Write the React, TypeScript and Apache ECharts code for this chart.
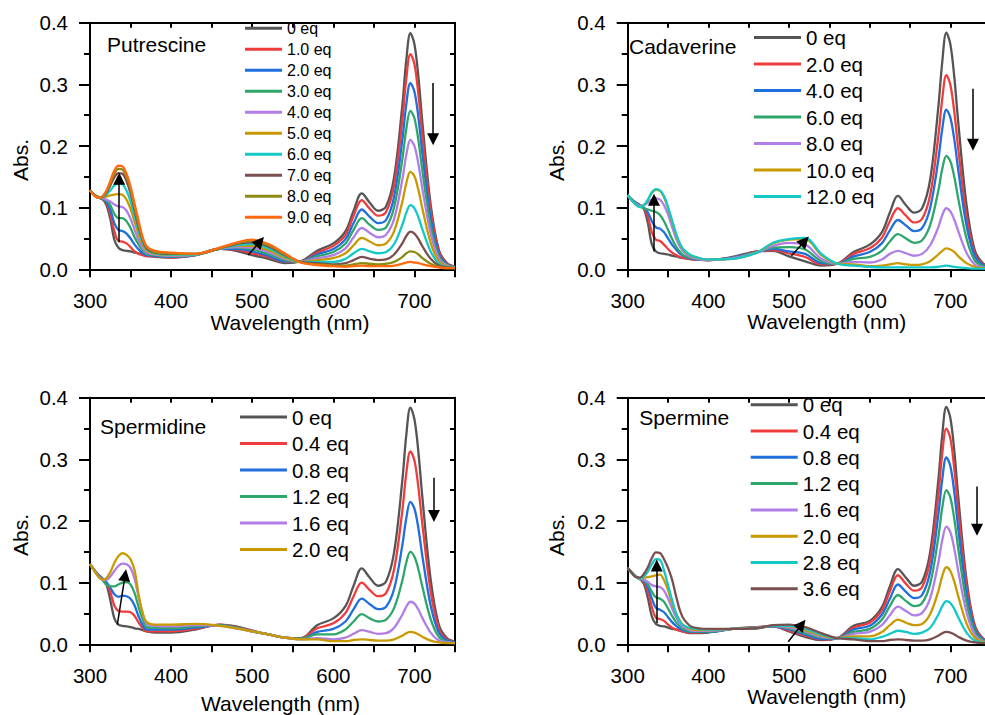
import React, { useEffect, useRef } from 'react';
import * as echarts from 'echarts';

const FONT = "'Liberation Sans', Arial, sans-serif";

// wavelength grid (nm) shared by every spectrum
const WAVELENGTHS = [300, 305, 310, 315, 320, 325, 330, 335, 340, 345, 350, 355, 360, 365, 370,
  380, 400, 430, 460, 480, 500, 520, 540, 560,
  580, 600, 615, 625, 635, 645, 655, 665, 675, 685, 690, 695, 700, 705, 710, 720, 730, 740, 750];

const GRAY = '#555555', RED = '#f03c3c', BLUE = '#1f6fdc', GREEN = '#2ea66a', PURPLE = '#b07ee6',
  GOLD = '#c99a00', CYAN = '#14c8c8', BROWN = '#7b4f4f', OLIVE = '#8c8c14', ORANGE = '#ff6a10';

// ---------- Putrescine ----------
const PUT_LABELS = ['0 eq', '1.0 eq', '2.0 eq', '3.0 eq', '4.0 eq', '5.0 eq', '6.0 eq', '7.0 eq', '8.0 eq', '9.0 eq'];
const PUT_COLORS = [GRAY, RED, BLUE, GREEN, PURPLE, GOLD, CYAN, BROWN, OLIVE, ORANGE];
const PUT_VALUES = [
  [0.128,0.121,0.117,0.114,0.105,0.082,0.048,0.035,0.031,0.030,0.029,0.027,0.026,0.024,0.022, 0.020,0.019,0.023,0.033,0.030,0.023,0.017,0.010,0.013, 0.030,0.042,0.062,0.095,0.123,0.108,0.095,0.102,0.150,0.265,0.340,0.383,0.365,0.310,0.235,0.105,0.032,0.010,0.004],
  [0.128,0.121,0.117,0.114,0.108,0.090,0.062,0.046,0.045,0.042,0.036,0.029,0.025,0.023,0.021, 0.021,0.019,0.023,0.033,0.032,0.026,0.020,0.012,0.013, 0.027,0.038,0.056,0.087,0.112,0.098,0.087,0.093,0.137,0.241,0.310,0.349,0.333,0.282,0.214,0.096,0.029,0.009,0.004],
  [0.128,0.121,0.117,0.114,0.110,0.097,0.075,0.064,0.062,0.058,0.050,0.040,0.032,0.026,0.023, 0.022,0.020,0.023,0.033,0.033,0.029,0.022,0.013,0.013, 0.024,0.033,0.049,0.075,0.097,0.085,0.075,0.080,0.118,0.209,0.268,0.302,0.288,0.245,0.185,0.083,0.025,0.008,0.003],
  [0.128,0.121,0.117,0.114,0.112,0.104,0.090,0.083,0.083,0.078,0.067,0.052,0.040,0.030,0.025, 0.023,0.021,0.024,0.033,0.035,0.032,0.025,0.015,0.013, 0.021,0.028,0.042,0.064,0.083,0.072,0.064,0.068,0.101,0.178,0.228,0.257,0.245,0.208,0.158,0.070,0.021,0.007,0.003],
  [0.128,0.121,0.117,0.116,0.113,0.110,0.105,0.102,0.101,0.095,0.082,0.064,0.047,0.034,0.027, 0.024,0.022,0.024,0.033,0.036,0.035,0.028,0.017,0.013, 0.018,0.023,0.034,0.052,0.067,0.059,0.052,0.056,0.082,0.145,0.186,0.210,0.200,0.170,0.129,0.058,0.018,0.006,0.003],
  [0.128,0.121,0.118,0.117,0.118,0.120,0.121,0.122,0.121,0.113,0.098,0.077,0.056,0.040,0.030, 0.025,0.023,0.024,0.034,0.038,0.038,0.031,0.019,0.012, 0.015,0.018,0.026,0.039,0.051,0.045,0.039,0.042,0.062,0.109,0.140,0.158,0.151,0.128,0.097,0.043,0.013,0.005,0.003],
  [0.128,0.121,0.117,0.117,0.121,0.128,0.136,0.140,0.138,0.128,0.110,0.086,0.062,0.043,0.032, 0.026,0.024,0.024,0.034,0.039,0.041,0.034,0.021,0.012, 0.012,0.012,0.017,0.026,0.033,0.029,0.026,0.028,0.041,0.072,0.092,0.104,0.099,0.084,0.064,0.029,0.009,0.004,0.003],
  [0.128,0.121,0.116,0.117,0.124,0.136,0.149,0.156,0.155,0.143,0.123,0.096,0.068,0.047,0.034, 0.027,0.025,0.025,0.034,0.041,0.044,0.037,0.023,0.012, 0.010,0.008,0.010,0.015,0.020,0.017,0.015,0.016,0.024,0.042,0.054,0.061,0.058,0.049,0.037,0.017,0.006,0.003,0.002],
  [0.128,0.120,0.116,0.118,0.126,0.140,0.155,0.163,0.162,0.150,0.130,0.101,0.072,0.049,0.036, 0.028,0.026,0.025,0.034,0.042,0.046,0.039,0.024,0.011, 0.008,0.006,0.006,0.008,0.010,0.009,0.008,0.009,0.012,0.020,0.026,0.029,0.028,0.024,0.018,0.009,0.004,0.002,0.002],
  [0.128,0.120,0.116,0.118,0.127,0.143,0.160,0.168,0.167,0.155,0.134,0.106,0.078,0.052,0.037, 0.030,0.027,0.025,0.035,0.043,0.048,0.041,0.026,0.011, 0.007,0.005,0.004,0.005,0.006,0.005,0.005,0.005,0.006,0.009,0.011,0.012,0.011,0.010,0.008,0.005,0.003,0.002,0.002],
];
const PUT_ARROWS = [
  [[336, 0.044], [336, 0.147]],
  [[495, 0.023], [509.6, 0.045]],
  [[723, 0.302], [723, 0.211]],
];

// ---------- Cadaverine ----------
const CAD_LABELS = ['0 eq', '2.0 eq', '4.0 eq', '6.0 eq', '8.0 eq', '10.0 eq', '12.0 eq'];
const CAD_COLORS = [GRAY, RED, BLUE, GREEN, PURPLE, GOLD, CYAN];
const CAD_VALUES = [
  [0.120,0.113,0.108,0.104,0.098,0.075,0.040,0.029,0.026,0.025,0.024,0.022,0.021,0.019,0.018, 0.016,0.015,0.020,0.029,0.030,0.021,0.013,0.006,0.009, 0.028,0.040,0.060,0.092,0.119,0.104,0.092,0.099,0.146,0.262,0.337,0.384,0.365,0.310,0.235,0.105,0.032,0.010,0.004],
  [0.120,0.113,0.108,0.104,0.099,0.085,0.060,0.048,0.046,0.040,0.033,0.027,0.023,0.020,0.018, 0.016,0.015,0.019,0.029,0.031,0.026,0.020,0.008,0.009, 0.025,0.034,0.051,0.078,0.099,0.087,0.076,0.082,0.121,0.215,0.277,0.315,0.299,0.254,0.193,0.086,0.026,0.008,0.003],
  [0.120,0.113,0.108,0.104,0.100,0.092,0.078,0.068,0.066,0.060,0.050,0.040,0.032,0.025,0.021, 0.017,0.015,0.019,0.028,0.033,0.029,0.025,0.010,0.009, 0.021,0.028,0.042,0.063,0.080,0.071,0.062,0.067,0.100,0.177,0.228,0.259,0.246,0.209,0.159,0.071,0.022,0.007,0.003],
  [0.120,0.113,0.107,0.102,0.099,0.097,0.095,0.093,0.088,0.078,0.064,0.049,0.037,0.028,0.022, 0.018,0.015,0.018,0.028,0.035,0.036,0.032,0.013,0.009, 0.017,0.020,0.030,0.045,0.057,0.050,0.043,0.047,0.072,0.127,0.163,0.184,0.175,0.149,0.113,0.050,0.015,0.005,0.002],
  [0.120,0.112,0.106,0.103,0.104,0.108,0.113,0.115,0.113,0.104,0.089,0.069,0.050,0.036,0.027, 0.019,0.015,0.018,0.027,0.038,0.043,0.040,0.017,0.009, 0.012,0.011,0.016,0.025,0.030,0.026,0.022,0.025,0.039,0.068,0.088,0.099,0.094,0.080,0.061,0.027,0.008,0.003,0.002],
  [0.120,0.112,0.105,0.102,0.104,0.112,0.124,0.129,0.127,0.117,0.099,0.077,0.056,0.040,0.030, 0.021,0.016,0.017,0.027,0.042,0.048,0.049,0.023,0.009, 0.008,0.005,0.006,0.008,0.010,0.008,0.007,0.008,0.013,0.024,0.030,0.034,0.032,0.028,0.021,0.010,0.004,0.002,0.002],
  [0.120,0.112,0.105,0.101,0.104,0.113,0.125,0.130,0.128,0.119,0.101,0.079,0.058,0.041,0.031, 0.022,0.016,0.017,0.027,0.043,0.049,0.051,0.025,0.009, 0.006,0.004,0.003,0.003,0.003,0.003,0.003,0.003,0.003,0.004,0.005,0.006,0.005,0.004,0.003,0.002,0.001,0.001,0.001],
];
const CAD_ARROWS = [
  [[332.6, 0.029], [332.6, 0.113]],
  [[503, 0.022], [519.5, 0.046]],
  [[728, 0.293], [728, 0.202]],
];

// ---------- Spermidine ----------
const SPD_LABELS = ['0 eq', '0.4 eq', '0.8 eq', '1.2 eq', '1.6 eq', '2.0 eq'];
const SPD_COLORS = [GRAY, RED, BLUE, GREEN, PURPLE, GOLD];
const SPD_VALUES = [
  [0.130,0.121,0.113,0.107,0.098,0.072,0.042,0.032,0.030,0.029,0.028,0.026,0.025,0.023,0.021, 0.019,0.019,0.024,0.032,0.029,0.022,0.016,0.011,0.010, 0.031,0.042,0.062,0.095,0.123,0.108,0.095,0.102,0.150,0.265,0.340,0.384,0.365,0.310,0.235,0.105,0.032,0.010,0.004],
  [0.130,0.121,0.113,0.107,0.099,0.085,0.063,0.054,0.053,0.053,0.052,0.046,0.035,0.026,0.021, 0.021,0.021,0.025,0.032,0.028,0.022,0.016,0.011,0.010, 0.026,0.034,0.051,0.078,0.100,0.088,0.078,0.083,0.122,0.216,0.278,0.313,0.298,0.253,0.192,0.086,0.026,0.008,0.003],
  [0.130,0.121,0.113,0.107,0.101,0.092,0.081,0.077,0.079,0.078,0.074,0.063,0.045,0.031,0.024, 0.024,0.024,0.027,0.031,0.027,0.021,0.016,0.011,0.009, 0.020,0.025,0.037,0.057,0.074,0.065,0.057,0.061,0.090,0.160,0.205,0.231,0.220,0.187,0.141,0.063,0.019,0.006,0.003],
  [0.130,0.121,0.112,0.105,0.097,0.094,0.094,0.097,0.100,0.101,0.097,0.083,0.060,0.040,0.028, 0.027,0.026,0.029,0.031,0.027,0.021,0.016,0.011,0.009, 0.016,0.016,0.024,0.037,0.049,0.042,0.037,0.040,0.059,0.103,0.133,0.150,0.142,0.121,0.092,0.041,0.012,0.004,0.002],
  [0.130,0.120,0.111,0.105,0.104,0.110,0.119,0.127,0.131,0.130,0.124,0.106,0.076,0.050,0.033, 0.030,0.029,0.031,0.030,0.026,0.021,0.016,0.011,0.008, 0.010,0.008,0.011,0.017,0.023,0.020,0.017,0.018,0.027,0.048,0.061,0.069,0.066,0.056,0.042,0.019,0.006,0.003,0.002],
  [0.130,0.120,0.110,0.105,0.107,0.117,0.132,0.143,0.148,0.145,0.138,0.120,0.080,0.050,0.036, 0.032,0.032,0.033,0.030,0.026,0.021,0.016,0.011,0.008, 0.008,0.005,0.005,0.007,0.008,0.007,0.006,0.006,0.008,0.014,0.018,0.020,0.019,0.016,0.012,0.006,0.003,0.002,0.002],
];
const SPD_ARROWS = [
  [[333.7, 0.032], [343.3, 0.112]],
  [[724, 0.27], [724, 0.208]],
];

// ---------- Spermine ----------
const SPM_LABELS = ['0 eq', '0.4 eq', '0.8 eq', '1.2 eq', '1.6 eq', '2.0 eq', '2.8 eq', '3.6 eq'];
const SPM_COLORS = [GRAY, RED, BLUE, GREEN, PURPLE, GOLD, CYAN, BROWN];
const SPM_VALUES = [
  [0.124,0.116,0.110,0.106,0.098,0.075,0.045,0.033,0.030,0.029,0.027,0.025,0.024,0.022,0.020, 0.018,0.019,0.025,0.028,0.029,0.021,0.012,0.007,0.010, 0.030,0.038,0.060,0.094,0.122,0.108,0.095,0.102,0.150,0.265,0.340,0.385,0.367,0.312,0.236,0.105,0.032,0.010,0.004],
  [0.124,0.116,0.110,0.106,0.101,0.086,0.060,0.043,0.041,0.038,0.032,0.027,0.024,0.022,0.020, 0.019,0.020,0.025,0.028,0.029,0.022,0.014,0.008,0.010, 0.027,0.035,0.055,0.086,0.112,0.098,0.087,0.093,0.137,0.241,0.310,0.350,0.334,0.283,0.214,0.096,0.029,0.009,0.004],
  [0.124,0.116,0.110,0.106,0.103,0.092,0.074,0.059,0.056,0.052,0.044,0.036,0.030,0.025,0.022, 0.020,0.020,0.025,0.027,0.029,0.024,0.016,0.009,0.010, 0.024,0.030,0.048,0.074,0.097,0.085,0.075,0.080,0.118,0.209,0.268,0.303,0.289,0.245,0.185,0.083,0.025,0.008,0.003],
  [0.124,0.116,0.110,0.106,0.104,0.097,0.085,0.076,0.074,0.069,0.058,0.046,0.036,0.029,0.024, 0.021,0.021,0.025,0.027,0.030,0.026,0.018,0.011,0.010, 0.020,0.025,0.040,0.062,0.080,0.070,0.062,0.067,0.098,0.173,0.222,0.250,0.238,0.202,0.153,0.068,0.021,0.007,0.003],
  [0.124,0.116,0.110,0.106,0.105,0.101,0.096,0.094,0.093,0.087,0.074,0.058,0.044,0.033,0.027, 0.022,0.022,0.025,0.027,0.030,0.027,0.021,0.012,0.010, 0.017,0.020,0.031,0.047,0.061,0.054,0.047,0.051,0.075,0.132,0.169,0.191,0.182,0.154,0.117,0.052,0.016,0.005,0.003],
  [0.124,0.116,0.110,0.106,0.108,0.109,0.110,0.112,0.113,0.104,0.088,0.066,0.050,0.038,0.030, 0.024,0.023,0.025,0.026,0.030,0.029,0.023,0.014,0.010, 0.013,0.013,0.020,0.031,0.040,0.035,0.031,0.033,0.049,0.086,0.111,0.125,0.119,0.101,0.077,0.034,0.011,0.004,0.002],
  [0.124,0.116,0.110,0.106,0.110,0.118,0.130,0.138,0.137,0.120,0.096,0.072,0.050,0.036,0.030, 0.026,0.024,0.025,0.026,0.030,0.030,0.025,0.016,0.010, 0.010,0.008,0.012,0.017,0.022,0.020,0.017,0.019,0.027,0.048,0.062,0.070,0.067,0.057,0.043,0.019,0.006,0.003,0.002],
  [0.124,0.116,0.109,0.108,0.114,0.125,0.140,0.149,0.148,0.138,0.124,0.105,0.078,0.054,0.040, 0.028,0.025,0.025,0.026,0.031,0.032,0.028,0.018,0.010, 0.008,0.005,0.005,0.007,0.008,0.007,0.006,0.006,0.008,0.014,0.018,0.020,0.019,0.016,0.012,0.006,0.003,0.002,0.002],
];
const SPM_ARROWS = [
  [[336, 0.034], [336, 0.128]],
  [[499, 0.004], [515.8, 0.032]],
  [[733, 0.256], [733, 0.186]],
];

// ---------- layout ----------
const PANELS = [
  { key: 'Putrescine', labels: PUT_LABELS, colors: PUT_COLORS, values: PUT_VALUES, arrows: PUT_ARROWS,
    grid: { left: 90, top: 22.7, width: 365, height: 246.6 },
    legend: { left: 245, top: 20.3, fontSize: 16, itemWidth: 37, itemGap: 5 },
    title: { left: 107, top: 33.8 }, xName: [290, 322], yName: [20, 160] },
  { key: 'Cadaverine', labels: CAD_LABELS, colors: CAD_COLORS, values: CAD_VALUES, arrows: CAD_ARROWS,
    grid: { left: 627.7, top: 22.7, width: 363, height: 246.6 },
    legend: { left: 754, top: 27.1, fontSize: 20.5, itemWidth: 47, itemGap: 5.5 },
    title: { left: 629, top: 36.2 }, xName: [826.7, 321.7], yName: [556.7, 160] },
  { key: 'Spermidine', labels: SPD_LABELS, colors: SPD_COLORS, values: SPD_VALUES, arrows: SPD_ARROWS,
    grid: { left: 90, top: 397.7, width: 365, height: 246.6 },
    legend: { left: 240, top: 406.5, fontSize: 20.5, itemWidth: 47, itemGap: 5.5 },
    title: { left: 100, top: 416.2 }, xName: [280.5, 703.3], yName: [20, 535] },
  { key: 'Spermine', labels: SPM_LABELS, colors: SPM_COLORS, values: SPM_VALUES, arrows: SPM_ARROWS,
    grid: { left: 627.7, top: 397.7, width: 363, height: 246.6 },
    legend: { left: 750.7, top: 394.2, fontSize: 20.5, itemWidth: 47, itemGap: 5.3 },
    title: { left: 639.3, top: 407.2 }, xName: [826.7, 696.7], yName: [556.7, 535] },
];

const BLACK_LINE = { color: '#000', width: 2 };

function buildOption() {
  const grid: any[] = [];
  const xAxis: any[] = [];
  const yAxis: any[] = [];
  const series: any[] = [];
  const legend: any[] = [];
  const title: any[] = [];
  const graphic: any[] = [];

  PANELS.forEach((p, i) => {
    grid.push({ ...p.grid, containLabel: false });
    xAxis.push({
      gridIndex: i, type: 'value', position: 'bottom', min: 300, max: 750, interval: 50,
      axisLine: { show: true, onZero: false, lineStyle: BLACK_LINE },
      axisTick: { show: true, length: 8, lineStyle: BLACK_LINE },
      axisLabel: { formatter: (v: number) => (v % 100 === 0 ? String(v) : ''), fontSize: 20.5, color: '#000', fontFamily: FONT, margin: 21 },
      splitLine: { show: false },
    });
    xAxis.push({
      gridIndex: i, type: 'value', position: 'top', min: 300, max: 750, interval: 50,
      axisLine: { show: true, onZero: false, lineStyle: BLACK_LINE },
      axisTick: { show: true, inside: true, length: 5, lineStyle: BLACK_LINE },
      axisLabel: { show: false }, splitLine: { show: false },
    });
    yAxis.push({
      gridIndex: i, type: 'value', position: 'left', min: 0, max: 0.4, interval: 0.1,
      axisLine: { show: true, onZero: false, lineStyle: BLACK_LINE },
      axisTick: { show: true, length: 11, lineStyle: BLACK_LINE },
      minorTick: { show: true, splitNumber: 2, length: 6, lineStyle: BLACK_LINE },
      axisLabel: { formatter: (v: number) => v.toFixed(1), fontSize: 20.5, color: '#000', fontFamily: FONT, margin: 22 },
      splitLine: { show: false },
    });
    yAxis.push({
      gridIndex: i, type: 'value', position: 'right', min: 0, max: 0.4, interval: 0.1,
      axisLine: { show: true, onZero: false, lineStyle: BLACK_LINE },
      axisTick: { show: true, inside: true, length: 5, lineStyle: BLACK_LINE },
      minorTick: { show: true, splitNumber: 2, length: 5, lineStyle: BLACK_LINE },
      axisLabel: { show: false }, splitLine: { show: false },
    });

    const names: string[] = [];
    p.labels.forEach((label, k) => {
      const name = `${p.key}|${label}`;
      names.push(name);
      const s: any = {
        type: 'line', name, xAxisIndex: 2 * i, yAxisIndex: 2 * i,
        data: WAVELENGTHS.map((w, j) => [w, p.values[k][j]]),
        smooth: 0.35, symbol: 'none', showSymbol: false,
        lineStyle: { color: p.colors[k], width: 2.3, join: 'round' }, itemStyle: { color: p.colors[k] },
        emphasis: { disabled: true }, z: 2 + k * 0.01,
      };
      if (k === 0) {
        s.markLine = {
          silent: true, symbol: ['none', 'triangle'], symbolSize: 12, precision: 4,
          label: { show: false }, emphasis: { disabled: true },
          lineStyle: { color: '#000', width: 1.5, type: 'solid' }, itemStyle: { color: '#000' },
          data: p.arrows.map(([a, b]) => [{ coord: a }, { coord: b }]),
          z: 10,
        };
      }
      series.push(s);
    });

    legend.push({
      orient: 'vertical', left: p.legend.left, top: p.legend.top, padding: 0,
      icon: 'rect', itemWidth: p.legend.itemWidth, itemHeight: 3, itemGap: p.legend.itemGap,
      selectedMode: false, data: names,
      formatter: (n: string) => n.split('|')[1],
      textStyle: { fontSize: p.legend.fontSize, color: '#000', fontFamily: FONT },
    });

    title.push({
      text: p.key, left: p.title.left, top: p.title.top, padding: 0,
      textStyle: { fontSize: 21, fontWeight: 'normal', color: '#000', fontFamily: FONT },
    });

    graphic.push({
      type: 'text', x: p.xName[0], y: p.xName[1],
      style: { text: 'Wavelength (nm)', fontSize: 21, fontFamily: FONT, fill: '#000', textAlign: 'center', textVerticalAlign: 'middle' },
    });
    graphic.push({
      type: 'text', x: p.yName[0], y: p.yName[1], rotation: Math.PI / 2,
      style: { text: 'Abs.', fontSize: 21, fontFamily: FONT, fill: '#000', textAlign: 'center', textVerticalAlign: 'middle' },
    });
  });

  return { animation: false, backgroundColor: '#fff', grid, xAxis, yAxis, series, legend, title, graphic };
}

export default function App() {
  const ref = useRef<HTMLDivElement>(null);
  useEffect(() => {
    if (!ref.current) return;
    const chart = echarts.init(ref.current, undefined, { renderer: 'svg' });
    chart.setOption(buildOption() as any);
    return () => chart.dispose();
  }, []);
  return (
    <div style={{ position: 'fixed', left: 0, top: 0, width: 985, height: 715, overflow: 'hidden', background: '#fff' }}>
      <div ref={ref} style={{ width: 1000, height: 715 }} />
    </div>
  );
}
